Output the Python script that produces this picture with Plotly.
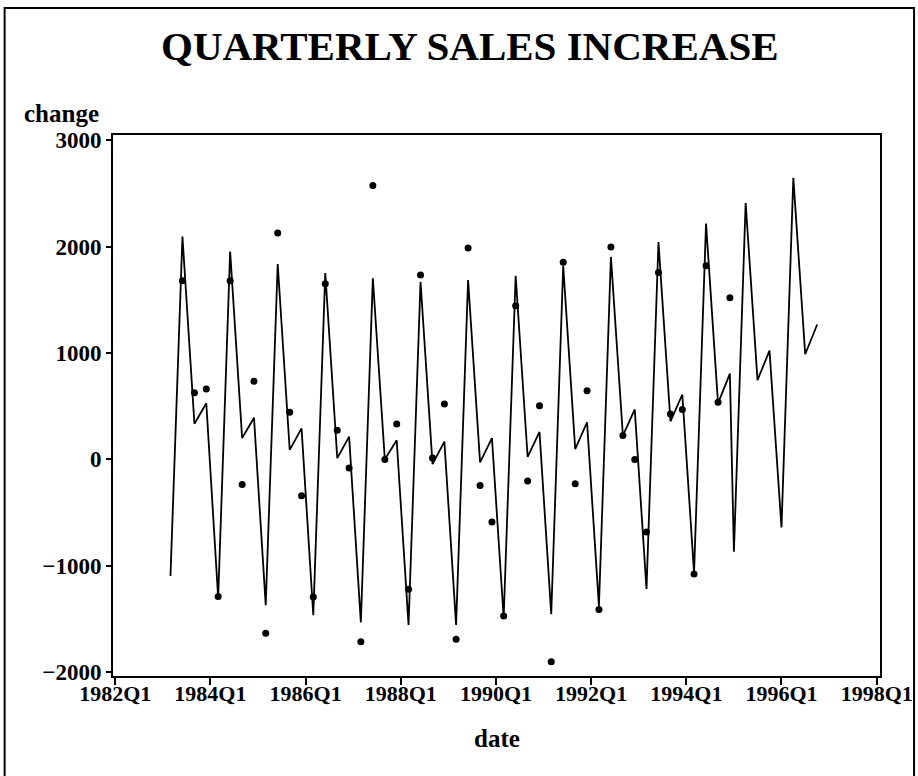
import pandas as pd
import plotly.graph_objects as go

# Fitted quarterly change, 1983Q1-1994Q4 (observation dates fall in the third month of each quarter)
fitted = [
    -1096, 2095, 335, 527,
    -1300, 1954, 200, 392,
    -1371, 1837, 90, 292,
    -1465, 1752, 12, 214,
    -1532, 1702, 0, 180,
    -1556, 1670, -44, 167,
    -1556, 1685, -28, 200,
    -1489, 1726, 23, 258,
    -1455, 1820, 97, 349,
    -1380, 1903, 224, 469,
    -1217, 2042, 358, 610,
    -1065, 2217, 527, 806,
]

# Forecast, 1995Q1-1996Q4 (dated at the start of each quarter)
forecast = [-868, 2410, 745, 1022, -640, 2646, 988, 1268]

# Actual quarterly sales increase, 1983Q2-1994Q4
actual = [
    1679, 627, 661,
    -1288, 1679, -236, 734,
    -1634, 2128, 443, -341,
    -1294, 1651, 275, -82,
    -1713, 2575, 0, 332,
    -1220, 1732, 12, 520,
    -1690, 1987, -246, -589,
    -1472, 1444, -202, 503,
    -1902, 1853, -229, 644,
    -1411, 1997, 224, 0,
    -682, 1756, 426, 469,
    -1078, 1820, 537, 1520,
]

tick_years = list(range(1982, 1999, 2))
tick_labels = [f"{y}Q1" for y in tick_years]
y_ticks = [-2000, -1000, 0, 1000, 2000, 3000]
y_labels = [f"\u2212{abs(v)}" if v < 0 else str(v) for v in y_ticks]

fit_dates = pd.date_range("1983-03-01", periods=len(fitted), freq="3MS")
fc_dates = pd.date_range("1995-01-01", periods=len(forecast), freq="QS")
act_dates = fit_dates[1:]

line_x = list(fit_dates) + list(fc_dates)
line_y = fitted + forecast

SERIF = "Liberation Serif, Times New Roman, serif"

fig = go.Figure()
fig.add_trace(go.Scatter(
    x=line_x, y=line_y, mode="lines",
    line=dict(color="black", width=1.8),
    hoverinfo="skip",
))
fig.add_trace(go.Scatter(
    x=act_dates, y=actual, mode="markers",
    marker=dict(color="black", size=7, symbol="circle"),
))

fig.update_layout(
    width=918, height=776,
    margin=dict(l=113, r=38, t=135, b=100),
    paper_bgcolor="white", plot_bgcolor="white",
    showlegend=False,
    font=dict(family=SERIF, color="black"),
    xaxis=dict(
        type="date",
        range=["1981-12-15", "1998-01-26"],
        tickmode="array",
        tickvals=[f"{y}-01-01" for y in tick_years],
        ticktext=tick_labels,
        ticks="outside", ticklen=7, tickwidth=1.5, tickcolor="black",
        ticklabelstandoff=-10,
        showline=True, linecolor="black", linewidth=2, mirror=True,
        showgrid=False, zeroline=False, automargin=False,
        tickfont=dict(family=SERIF, size=22, color="black", weight="bold"),
    ),
    yaxis=dict(
        range=[-2036, 3049],
        tickmode="array",
        tickvals=y_ticks,
        ticktext=y_labels,
        ticks="outside", ticklen=5, tickwidth=1.5, tickcolor="black",
        showline=True, linecolor="black", linewidth=2, mirror=True,
        showgrid=False, zeroline=False, automargin=False,
        tickfont=dict(family=SERIF, size=23, color="black", weight="bold"),
    ),
    annotations=[
        dict(text="QUARTERLY SALES INCREASE", xref="paper", yref="paper",
             x=0.465, y=1.1646, xanchor="center", yanchor="middle", showarrow=False,
             font=dict(family=SERIF, size=41, color="black", weight="bold")),
        dict(text="change", xref="paper", yref="paper",
             x=-0.119, y=1.039, xanchor="left", yanchor="middle", showarrow=False,
             font=dict(family=SERIF, size=25, color="black", weight="bold")),
        dict(text="date", xref="paper", yref="paper",
             x=0.5, y=-0.115, xanchor="center", yanchor="middle", showarrow=False,
             font=dict(family=SERIF, size=25, color="black", weight="bold")),
    ],
    shapes=[
        dict(type="rect", xref="paper", yref="paper",
             x0=-0.1413, x1=1.0444, y0=-0.21, y1=1.2349,
             line=dict(color="black", width=2), fillcolor="rgba(0,0,0,0)", layer="below"),
    ],
)

fig.write_html("out.html")
